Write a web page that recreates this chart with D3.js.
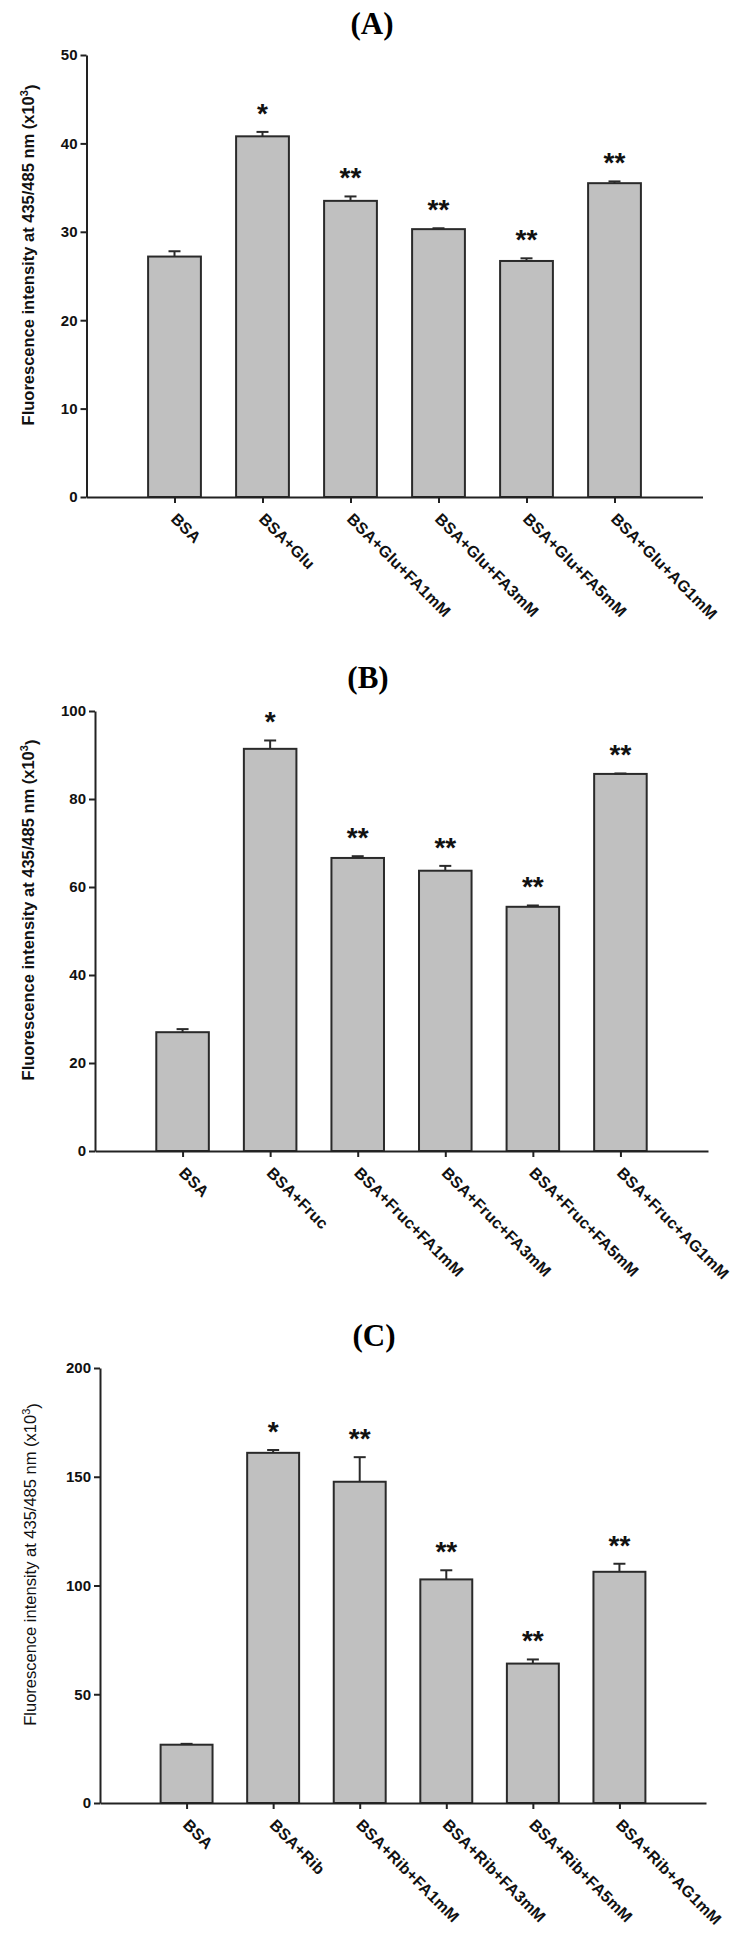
<!DOCTYPE html>
<html>
<head>
<meta charset="utf-8">
<script src="https://cdn.jsdelivr.net/npm/d3@7"></script>
<style>
  body { margin: 0; background: #fff; }
  svg { display: block; font-family: "Liberation Sans", Arial, sans-serif; }
  .title { font-family: "Liberation Serif", "Times New Roman", serif; font-weight: bold; font-size: 31px; text-anchor: middle; }
  .tick text { font-size: 15px; font-weight: bold; fill: #111; }
  .x-axis .tick text { font-size: 16px; letter-spacing: 0.2px; }
  .domain, .tick line { stroke: #222; stroke-width: 2; }
  .bar { fill: #c0c0c0; stroke: #2a2a2a; stroke-width: 2; }
  .err { stroke: #2a2a2a; stroke-width: 2; }
  .mark { font-size: 28px; font-weight: bold; text-anchor: middle; fill: #111; }
  .ylabel { font-size: 16.5px; text-anchor: middle; fill: #111; }
</style>
</head>
<body>
<div id="chart"></div>
<script>
// Panel A - glucose
const categoriesA = ["BSA", "BSA+Glu", "BSA+Glu+FA1mM", "BSA+Glu+FA3mM", "BSA+Glu+FA5mM", "BSA+Glu+AG1mM"];
const valuesA = [27.2, 40.8, 33.5, 30.3, 26.7, 35.5];
const errorsA = [0.6, 0.5, 0.5, 0.1, 0.3, 0.2];
const marksA = ["", "*", "**", "**", "**", "**"];
const ticksA = [0, 10, 20, 30, 40, 50];

// Panel B - fructose
const categoriesB = ["BSA", "BSA+Fruc", "BSA+Fruc+FA1mM", "BSA+Fruc+FA3mM", "BSA+Fruc+FA5mM", "BSA+Fruc+AG1mM"];
const valuesB = [27.0, 91.4, 66.6, 63.7, 55.5, 85.7];
const errorsB = [0.7, 1.9, 0.4, 1.1, 0.3, 0.1];
const marksB = ["", "*", "**", "**", "**", "**"];
const ticksB = [0, 20, 40, 60, 80, 100];

// Panel C - ribose
const categoriesC = ["BSA", "BSA+Rib", "BSA+Rib+FA1mM", "BSA+Rib+FA3mM", "BSA+Rib+FA5mM", "BSA+Rib+AG1mM"];
const valuesC = [26.8, 161.0, 147.7, 102.8, 64.1, 106.3];
const errorsC = [0.4, 1.3, 11.3, 4.2, 1.9, 3.7];
const marksC = ["", "*", "**", "**", "**", "**"];
const ticksC = [0, 50, 100, 150, 200];

const svg = d3.select("#chart")
  .append("svg")
  .attr("width", 739)
  .attr("height", 1943);

function drawPanel(p) {
  let x = d3.scaleLinear().domain([0, 7]).range([p.left, p.right]);
  let y = d3.scaleLinear().domain([0, d3.max(p.ticks)]).range([p.bottom, p.top]);
  let barW = (x(1) - x(0)) * 0.6;

  let g = svg.append("g");

  g.append("text")
    .attr("class", "title")
    .attr("x", p.titleX)
    .attr("y", p.titleY)
    .text(p.title);

  // bars
  g.selectAll("rect.bar")
    .data(p.values)
    .enter()
    .append("rect")
    .attr("class", "bar")
    .attr("x", (d, i) => x(i + 1) - barW / 2)
    .attr("y", (d) => y(d))
    .attr("width", barW)
    .attr("height", (d) => y(0) - y(d));

  // upper error whiskers only
  let err = g.selectAll("g.errbar")
    .data(p.values)
    .enter()
    .append("g")
    .attr("class", "errbar");

  err.append("line")
    .attr("class", "err")
    .attr("x1", (d, i) => x(i + 1))
    .attr("x2", (d, i) => x(i + 1))
    .attr("y1", (d) => y(d))
    .attr("y2", (d, i) => y(d + p.errors[i]));

  err.append("line")
    .attr("class", "err")
    .attr("x1", (d, i) => x(i + 1) - 6)
    .attr("x2", (d, i) => x(i + 1) + 6)
    .attr("y1", (d, i) => y(d + p.errors[i]))
    .attr("y2", (d, i) => y(d + p.errors[i]));

  // significance stars
  g.selectAll("text.mark")
    .data(p.marks)
    .enter()
    .append("text")
    .attr("class", "mark")
    .attr("x", (d, i) => x(i + 1))
    .attr("y", (d, i) => y(p.values[i] + p.errors[i]) - 9)
    .text((d) => d);

  // axes
  g.append("g")
    .attr("class", "y-axis")
    .attr("transform", "translate(" + p.left + ",0)")
    .call(d3.axisLeft(y).tickValues(p.ticks).tickSize(6).tickSizeOuter(0).tickPadding(3));

  let xg = g.append("g")
    .attr("class", "x-axis")
    .attr("transform", "translate(0," + p.bottom + ")")
    .call(d3.axisBottom(x)
      .tickValues(d3.range(1, 7))
      .tickSize(6)
      .tickSizeOuter(0)
      .tickFormat((d) => p.cats[d - 1]));

  xg.selectAll(".tick text")
    .attr("x", 0)
    .attr("y", 0)
    .attr("dy", null)
    .attr("text-anchor", "start")
    .attr("transform", "translate(-5,23) rotate(45)");

  // y label with superscript
  let cy = (p.top + p.bottom) / 2 - 21;
  let lab = g.append("text")
    .attr("class", "ylabel")
    .attr("font-weight", p.labelWeight)
    .attr("transform", "translate(" + p.labelX + "," + cy + ") rotate(-90)");
  lab.append("tspan").text("Fluorescence intensity at 435/485 nm (x10");
  lab.append("tspan").attr("dy", "-0.55em").attr("font-size", "11px").text("3");
  lab.append("tspan").attr("dy", "0.55em").text(")");
}

drawPanel({
  title: "(A)", titleX: 372, titleY: 34,
  left: 86.5, right: 702.5, top: 55, bottom: 497, labelX: 34, labelWeight: "bold",
  cats: categoriesA, values: valuesA, errors: errorsA, marks: marksA, ticks: ticksA
});

drawPanel({
  title: "(B)", titleX: 368, titleY: 688,
  left: 95, right: 708, top: 711, bottom: 1151, labelX: 34, labelWeight: "bold",
  cats: categoriesB, values: valuesB, errors: errorsB, marks: marksB, ticks: ticksB
});

drawPanel({
  title: "(C)", titleX: 374, titleY: 1346,
  left: 100, right: 706, top: 1368, bottom: 1803, labelX: 36, labelWeight: "normal",
  cats: categoriesC, values: valuesC, errors: errorsC, marks: marksC, ticks: ticksC
});
</script>
</body>
</html>
